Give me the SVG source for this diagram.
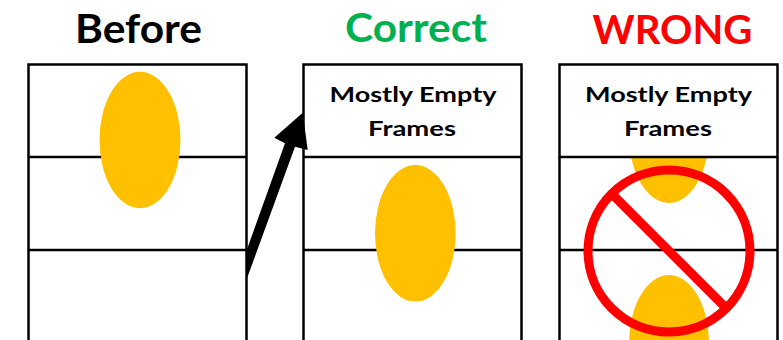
<svg xmlns="http://www.w3.org/2000/svg" width="783" height="340" viewBox="0 0 783 340">
  <style>
    .title { font-family: Lato, "Liberation Sans", sans-serif; font-weight: 700; font-size: 40px; text-anchor: middle; }
    .label { font-family: Lato, "Liberation Sans", sans-serif; font-weight: 700; font-size: 21.5px; text-anchor: middle; fill: #000; }
    .frame { fill: none; stroke: #000; stroke-width: 2.5; }
    .cell { fill: #fff; stroke: #000; stroke-width: 2.5; }
    .ball { fill: #FFC000; }
  </style>
  <defs>
    <clipPath id="col3Body">
      <rect x="560" y="157" width="218" height="190"/>
    </clipPath>
  </defs>
  <rect width="783" height="340" fill="#fff"/>

  <!-- column headings -->
  <text class="title" x="138.5" y="43" fill="#000" textLength="127" lengthAdjust="spacingAndGlyphs">Before</text>
  <text class="title" x="416" y="42" fill="#00B050" textLength="142" lengthAdjust="spacingAndGlyphs">Correct</text>
  <text class="title" x="672.5" y="44" fill="#FF0000" textLength="160" lengthAdjust="spacingAndGlyphs">WRONG</text>

  <!-- Before: frame strip with the object spanning frames 1-2 -->
  <g id="before">
    <path class="frame" d="M28.5 342 V64.5 H246.5 V342 M28.5 157 H246.5 M28.5 250 H246.5"/>
    <ellipse class="ball" cx="140" cy="140" rx="40.5" ry="68.3"/>
  </g>

  <!-- Correct: empty leading frame, object shifted down -->
  <g id="correct">
    <path class="frame" d="M303.5 342 V64.5 H521.5 V342 M303.5 157 H521.5 M303.5 250 H521.5"/>
    <ellipse class="ball" cx="415.3" cy="233.3" rx="40.3" ry="68.3"/>
    <text class="label" x="413" y="101.5" textLength="167" lengthAdjust="spacingAndGlyphs">Mostly Empty</text>
    <text class="label" x="412" y="136" textLength="88" lengthAdjust="spacingAndGlyphs">Frames</text>
  </g>

  <!-- Wrong: object split across frame boundary -->
  <g id="wrong">
    <path class="frame" d="M559.5 342 V157 M777.5 342 V157 M559.5 250 H777.5"/>
    <g clip-path="url(#col3Body)">
      <ellipse class="ball" cx="669" cy="135" rx="40" ry="68"/>
      <ellipse class="ball" cx="669" cy="343" rx="40" ry="68"/>
    </g>
    <rect class="cell" x="559.5" y="64.5" width="218" height="92.5"/>
    <text class="label" x="668.5" y="101.5" textLength="167" lengthAdjust="spacingAndGlyphs">Mostly Empty</text>
    <text class="label" x="668" y="136" textLength="88" lengthAdjust="spacingAndGlyphs">Frames</text>
  </g>

  <!-- prohibition sign -->
  <g id="no-sign" fill="none" stroke="#FF0000" stroke-width="9">
    <circle cx="669" cy="251" r="81"/>
    <line x1="613" y1="195" x2="725" y2="307"/>
  </g>

  <!-- connector: Before -> Correct -->
  <g id="connectors">
    <polygon fill="#000" points="302.7,112.7 307.7,150 295,146.7 247.5,277 246,277 246,252 285,143.3 274.3,137.7"/>
  </g>
</svg>
